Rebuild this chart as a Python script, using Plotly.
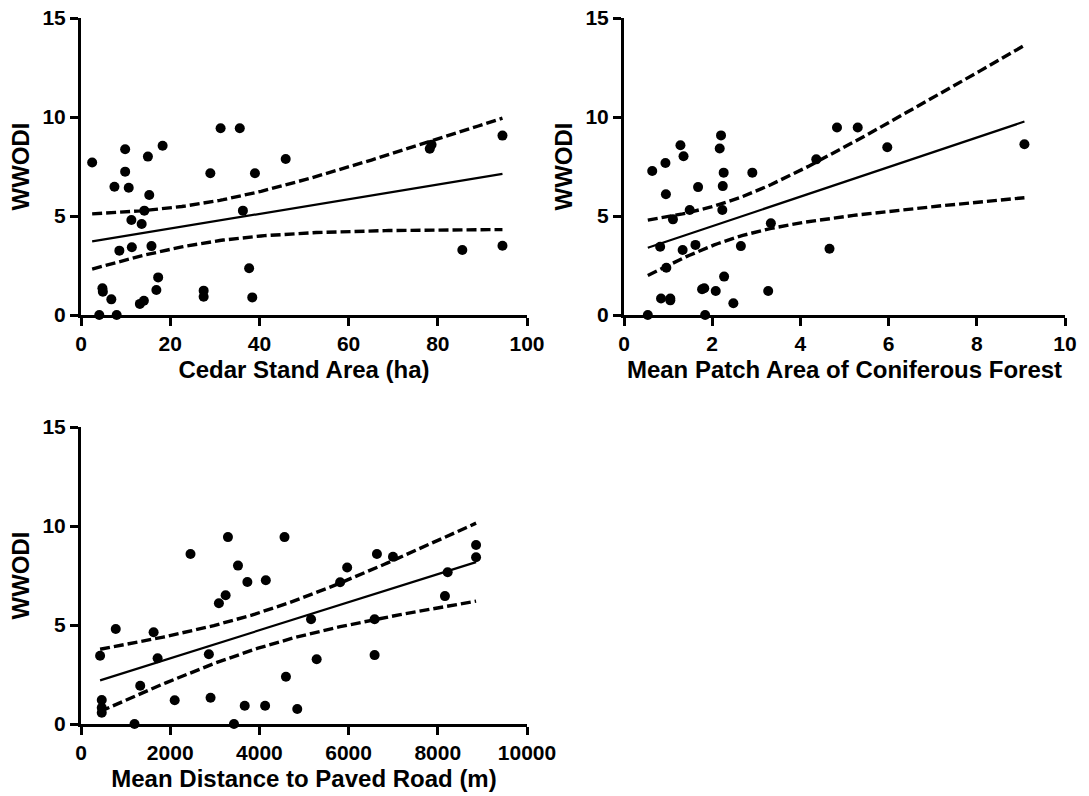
import numpy as np
import plotly.graph_objects as go

# WWODI against three habitat predictors
cedar_area = [2.5, 9.9, 18.3, 31.3, 35.6, 45.9, 15.0, 9.9, 29.0, 39.0, 7.5, 10.7, 15.3,
              14.2, 36.3, 11.3, 13.6, 8.6, 11.4, 15.8, 37.7, 17.3, 4.8, 4.9, 16.9, 6.8,
              27.5, 27.5, 38.4, 13.2, 14.1, 4.1, 8.0, 78.2, 78.6, 94.5, 85.5, 94.5]
cedar_wwodi = [7.70, 8.37, 8.55, 9.43, 9.43, 7.88, 8.00, 7.24, 7.16, 7.16, 6.48, 6.43, 6.06,
               5.27, 5.27, 4.80, 4.60, 3.25, 3.42, 3.48, 2.36, 1.90, 1.35, 1.18, 1.26, 0.79,
               1.23, 0.92, 0.89, 0.56, 0.72, 0.0, 0.0, 8.40, 8.60, 9.06, 3.28, 3.50]

patch_area = [0.64, 0.94, 1.28, 1.35, 2.20, 2.17, 2.26, 2.24, 2.91, 1.68, 0.95, 1.49, 1.11,
              2.23, 3.33, 0.82, 1.33, 1.62, 2.65, 4.66, 0.96, 2.27, 1.77, 1.82, 2.08, 3.27,
              0.84, 1.05, 1.05, 2.48, 0.54, 1.84, 4.83, 5.30, 5.97, 9.08, 4.36]
patch_wwodi = [7.27, 7.68, 8.57, 8.02, 9.07, 8.41, 7.19, 6.51, 7.19, 6.46, 6.10, 5.30, 4.83,
               5.30, 4.63, 3.45, 3.28, 3.54, 3.48, 3.35, 2.39, 1.94, 1.30, 1.35, 1.21, 1.21,
               0.83, 0.83, 0.74, 0.59, 0.0, 0.0, 9.47, 9.47, 8.47, 8.62, 7.86]

road_dist = [428, 779, 1628, 1718, 2455, 3295, 4563, 3520, 3730, 4144, 3243, 3092, 2867,
             1328, 465, 465, 465, 2101, 2905, 4595, 3671, 4128, 4849, 1200, 3430, 5158,
             5284, 6583, 6583, 5810, 5968, 6635, 6995, 8221, 8160, 8858, 8858]
road_wwodi = [3.45, 4.80, 4.63, 3.32, 8.59, 9.44, 9.44, 8.00, 7.17, 7.26, 6.50, 6.10, 3.52,
              1.93, 1.21, 0.82, 0.57, 1.20, 1.33, 2.39, 0.92, 0.92, 0.76, 0.0, 0.0, 5.29,
              3.27, 5.29, 3.48, 7.16, 7.90, 8.59, 8.45, 7.66, 6.46, 9.04, 8.42]

x_titles = ["Cedar Stand Area (ha)", "Mean Patch Area of Coniferous Forest",
            "Mean Distance to Paved Road (m)"]
x_ranges = [[0, 100], [0, 10], [0, 10000]]
x_ticks = [[0, 20, 40, 60, 80, 100], [0, 2, 4, 6, 8, 10],
           [0, 2000, 4000, 6000, 8000, 10000]]
y_ticks = [0, 5, 10, 15]

T_CRIT = 2.03  # two-sided 95% t quantile for ~35 degrees of freedom


def linear_fit(x, y, n_grid=120):
    x = np.asarray(x, float)
    y = np.asarray(y, float)
    n = len(x)
    b, a = np.polyfit(x, y, 1)
    resid = y - (a + b * x)
    s = np.sqrt(np.sum(resid ** 2) / (n - 2))
    xbar = x.mean()
    sxx = np.sum((x - xbar) ** 2)
    xs = np.linspace(x.min(), x.max(), n_grid)
    yh = a + b * xs
    half = T_CRIT * s * np.sqrt(1.0 / n + (xs - xbar) ** 2 / sxx)
    return xs, yh, yh - half, yh + half


FONT = "Liberation Sans, Arial, sans-serif"
W, H = 1089, 796

# panel placement in pixels: (left, right, top, bottom)
panels = [(81, 527, 18, 315), (624, 1065, 18, 315), (81, 527, 427, 724)]
datasets = [(cedar_area, cedar_wwodi), (patch_area, patch_wwodi), (road_dist, road_wwodi)]

fig = go.Figure()
layout = dict(width=W, height=H, margin=dict(l=0, r=0, t=0, b=0, autoexpand=False),
              paper_bgcolor="white", plot_bgcolor="white", showlegend=False,
              font=dict(family=FONT, color="black", size=20, weight="bold"))

for i, ((x, y), (l, r, t, b)) in enumerate(zip(datasets, panels)):
    k = "" if i == 0 else str(i + 1)
    xa, ya = "x" + k, "y" + k
    xs, yh, lo, hi = linear_fit(x, y)
    dash_line = dict(color="black", width=3.4, dash="10px,4px")
    fig.add_trace(go.Scatter(x=xs, y=hi, mode="lines", line=dash_line, xaxis=xa, yaxis=ya,
                             hoverinfo="skip"))
    fig.add_trace(go.Scatter(x=xs, y=lo, mode="lines", line=dash_line, xaxis=xa, yaxis=ya,
                             hoverinfo="skip"))
    fig.add_trace(go.Scatter(x=xs, y=yh, mode="lines", line=dict(color="black", width=2.2),
                             xaxis=xa, yaxis=ya, hoverinfo="skip"))
    fig.add_trace(go.Scatter(x=x, y=y, mode="markers", cliponaxis=False,
                             marker=dict(color="black", size=10), xaxis=xa, yaxis=ya))

    axis_common = dict(showline=True, linecolor="black", linewidth=3, ticks="outside",
                       ticklen=8, tickwidth=3, tickcolor="black", showgrid=False,
                       zeroline=False, automargin=False,
                       tickfont=dict(family=FONT, size=21, weight="bold"))
    layout["xaxis" + k] = dict(
        axis_common, domain=[l / W, r / W], range=x_ranges[i], tickvals=x_ticks[i],
        tickformat="d", anchor=ya,
        title=dict(text=x_titles[i], standoff=7,
                   font=dict(family=FONT, size=24, weight="bold")))
    layout["yaxis" + k] = dict(
        axis_common, domain=[1 - b / H, 1 - t / H], range=[0, 15], tickvals=y_ticks,
        tickformat="d", anchor=xa,
        title=dict(text="WWODI", standoff=7,
                   font=dict(family=FONT, size=24, weight="bold")))

fig.update_layout(**layout)
fig.write_html("out.html")
